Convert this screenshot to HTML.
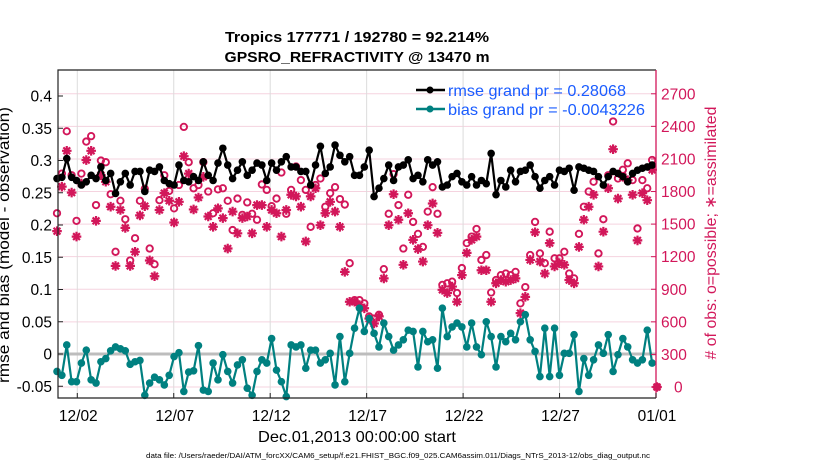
<!DOCTYPE html>
<html><head><meta charset="utf-8"><style>
html,body{margin:0;padding:0;background:#fff;}
svg{display:block;font-family:"Liberation Sans",Arial,sans-serif;}
</style></head><body>
<svg id="chart" width="830" height="470" viewBox="0 0 830 470" xmlns="http://www.w3.org/2000/svg">
<text x="357" y="42" text-anchor="middle" font-size="15" font-weight="bold" textLength="264" lengthAdjust="spacingAndGlyphs">Tropics 177771 / 192780 = 92.214%</text>
<text x="357" y="62" text-anchor="middle" font-size="15" font-weight="bold" textLength="265" lengthAdjust="spacingAndGlyphs">GPSRO_REFRACTIVITY @ 13470 m</text>
<g id="grid"></g>
<g id="marks"></g>
<g id="axes"></g>
<g>
<g>
<line x1="416" y1="90" x2="445" y2="90" stroke="#000" stroke-width="2.5"/><circle cx="430" cy="90" r="3.5" fill="#000"/>
<text x="448" y="96" font-size="16" fill="#1a5cff" textLength="178" lengthAdjust="spacingAndGlyphs">rmse grand pr = 0.28068</text></g>
<g>
<line x1="416" y1="109" x2="445" y2="109" stroke="#008080" stroke-width="2.5"/><circle cx="430" cy="109" r="3.5" fill="#008080"/>
<text x="448" y="115" font-size="16" fill="#1a5cff" textLength="197" lengthAdjust="spacingAndGlyphs">bias grand pr = -0.0043226</text></g>
</g>
<text transform="translate(9,245) rotate(-90)" text-anchor="middle" font-size="16" textLength="276" lengthAdjust="spacingAndGlyphs">rmse and bias (model - observation)</text>
<text transform="translate(716,233) rotate(-90)" text-anchor="middle" font-size="16" fill="#d2175a" textLength="253" lengthAdjust="spacingAndGlyphs"># of obs: o=possible; ∗=assimilated</text>
<text x="357" y="442" text-anchor="middle" font-size="16" textLength="198" lengthAdjust="spacingAndGlyphs">Dec.01,2013 00:00:00 start</text>
<text x="398" y="458" text-anchor="middle" font-size="7.5" textLength="504" lengthAdjust="spacingAndGlyphs">data file: /Users/raeder/DAI/ATM_forcXX/CAM6_setup/f.e21.FHIST_BGC.f09_025.CAM6assim.011/Diags_NTrS_2013-12/obs_diag_output.nc</text>
</svg>
<script>
const rmse=[0.272,0.274,0.303,0.274,0.269,0.262,0.267,0.277,0.272,0.290,0.269,0.280,0.249,0.267,0.280,0.262,0.283,0.283,0.252,0.285,0.283,0.290,0.269,0.264,0.262,0.293,0.269,0.267,0.275,0.269,0.298,
0.277,0.269,0.296,0.319,0.293,0.272,0.285,0.298,0.277,0.285,0.296,0.293,0.269,0.296,0.285,0.298,0.306,0.290,0.290,0.283,0.283,0.262,0.293,0.322,0.280,0.290,0.324,0.308,0.298,0.306,0.277,
0.277,0.290,0.316,0.244,0.257,0.272,0.293,0.269,0.290,0.293,0.301,0.272,0.277,0.267,0.301,0.293,0.298,0.259,0.262,0.275,0.280,0.267,0.262,0.275,0.262,0.269,0.264,0.311,0.247,0.269,0.259,
0.285,0.267,0.283,0.285,0.293,0.275,0.257,0.269,0.275,0.262,0.285,0.283,0.288,0.254,0.290,0.288,0.285,0.283,0.275,0.262,0.275,0.283,0.280,0.275,0.267,0.280,0.285,0.288,0.290,0.293];
const bias=[-0.027,-0.033,0.014,-0.043,-0.043,-0.014,0.006,-0.040,-0.045,-0.012,-0.007,0.005,0.011,0.008,0.005,-0.016,-0.012,-0.010,-0.064,-0.045,-0.036,-0.040,-0.048,-0.033,-0.004,0.002,-0.058,-0.028,-0.026,0.013,-0.056,
-0.058,-0.014,-0.040,-0.001,-0.027,-0.045,-0.017,-0.009,-0.053,-0.064,-0.027,-0.009,-0.014,0.024,-0.025,-0.043,-0.066,0.014,0.011,0.014,-0.022,0.006,0.006,-0.014,-0.009,0.001,-0.048,0.027,-0.043,0.001,0.040,
0.071,0.035,0.055,0.032,0.011,0.048,0.027,0.006,0.014,0.022,0.037,0.035,-0.020,0.035,0.019,0.022,-0.022,0.071,0.027,0.042,0.048,0.042,0.011,0.048,0.011,-0.001,0.050,0.027,-0.020,0.027,0.019,
0.032,0.022,0.050,0.061,0.022,0.004,-0.035,0.040,-0.035,0.040,-0.033,0.001,0.001,0.030,-0.058,-0.007,-0.033,-0.009,0.014,0.001,0.030,-0.027,-0.001,0.024,0.011,-0.009,-0.014,-0.009,0.037,-0.014];
const possible=[1600,1965,2355,1950,1530,1965,2260,2310,1675,2085,2070,1775,1245,1715,1545,1165,1370,1715,1825,1275,1130,1720,1950,1805,1645,1860,2395,2070,1830,1860,2070,
1800,1600,1820,1830,1715,1445,1735,1585,1700,1595,1540,1865,1815,1665,1735,1975,1595,1815,2030,1905,1815,1475,1860,1920,1660,1785,1840,1730,1680,1140,800,
800,770,650,630,665,1085,1595,1960,1675,1275,1770,1520,1410,1290,1615,1840,1595,940,955,970,865,1095,1325,1385,1455,1170,1215,870,985,1030,1045,
1030,1060,770,920,1215,1520,1230,1140,1430,1185,1185,1245,1045,1000,1410,1660,1800,1890,1230,1545,1950,2445,1920,2000,2060,1905,1460,1905,1830,2090,0];
const assimilated=[1435,1845,2175,1790,1385,1875,2090,2175,1530,1950,1890,1660,1115,1630,1465,1115,1245,1580,1665,1165,1020,1630,1785,1715,1515,1705,2125,1965,1635,1745,1935,
1570,1475,1645,1555,1275,1615,1415,1555,1570,1415,1675,1675,1475,1630,1600,1385,1630,1770,1755,1660,1340,1755,1830,1490,1600,1705,1615,1475,1060,785,785,
755,725,630,585,650,1000,1490,1775,1540,1125,1600,1355,1270,1155,1490,1690,1420,895,865,925,785,1030,1235,1355,1385,1075,1075,785,955,985,970,
985,1000,680,830,1170,1425,1155,1045,1325,1110,1140,1125,985,955,1290,1540,1660,1770,1110,1430,1830,2190,1735,1935,1905,1770,1350,1785,1720,2000,0];
const xTickLabels=["12/02","12/07","12/12","12/17","12/22","12/27","01/01"];
const xTickDays=[1,6,11,16,21,26,31];
const yTickLeft=[-0.05,0,0.05,0.1,0.15,0.2,0.25,0.3,0.35,0.4];
const yTickLeftLabels=["-0.05","0","0.05","0.1","0.15","0.2","0.25","0.3","0.35","0.4"];
const yTickRight=[0,300,600,900,1200,1500,1800,2100,2400,2700];

const NS="http://www.w3.org/2000/svg";
const L=58,R=656,T=70,B=398;
const xDay=d=>L+d*(R-L)/31;
const xIdx=i=>57+i*(657-57)/123;
const yL=v=>354-v*645;
const yR=n=>387-n*0.1086;
function mk(tag,attrs,parent){const e=document.createElementNS(NS,tag);for(const k in attrs)e.setAttribute(k,attrs[k]);parent.appendChild(e);return e;}
const grid=document.getElementById('grid'),marks=document.getElementById('marks'),axes=document.getElementById('axes');
const MAG="#d2175a";
yTickRight.forEach(n=>{const g=mk('line',{x1:L,x2:R,y1:yR(n),y2:yR(n),stroke:"#f5d3df","stroke-width":1},grid);

});
xTickDays.forEach(d=>{const g=mk('line',{x1:xDay(d),x2:xDay(d),y1:T,y2:B,stroke:"#dcdcdc","stroke-width":1},grid);

});
const zl=mk('line',{x1:L,x2:R,y1:yL(0),y2:yL(0),stroke:"#bdbdbd","stroke-width":3},grid);


possible.forEach((n,i)=>{const c=mk('circle',{cx:xIdx(i),cy:yR(n),r:3.2,fill:"none",stroke:MAG,"stroke-width":1.9},marks);

});
assimilated.forEach((n,i)=>{const x=xIdx(i),y=yR(n),s=4.8,d=3.4;
const p=mk('path',{d:`M${x-s},${y}H${x+s}M${x},${y-s}V${y+s}M${x-d},${y-d}L${x+d},${y+d}M${x-d},${y+d}L${x+d},${y-d}`,stroke:MAG,"stroke-width":2.2},marks);

});
function series(vals,color,name){
const pl=mk('polyline',{points:vals.map((v,i)=>xIdx(i)+","+yL(v)).join(" "),fill:"none",stroke:color,"stroke-width":2.2},marks);


vals.forEach((v,i)=>{const c=mk('circle',{cx:xIdx(i),cy:yL(v),r:3.8,fill:color},marks);

});}
series(rmse,"#000","rmse");
series(bias,"#008080","bias");
const fr=mk('path',{d:`M${R},${B}H${L}V${T}H${R}`,fill:"none",stroke:"#222","stroke-width":1.2},axes);


const ra=mk('line',{x1:R,x2:R,y1:T,y2:B,stroke:MAG,"stroke-width":1.3},axes);


yTickLeft.forEach((v,i)=>{mk('line',{x1:L,x2:L+5,y1:yL(v),y2:yL(v),stroke:"#222"},axes);
const t=mk('text',{x:52,y:yL(v)+5.5,"text-anchor":"end","font-size":15.5},axes);t.textContent=yTickLeftLabels[i];

});
yTickRight.forEach(n=>{mk('line',{x1:R-5,x2:R,y1:yR(n),y2:yR(n),stroke:MAG},axes);
const t=mk('text',{x:661,y:yR(n)+5.5,"font-size":15.5,fill:MAG},axes);t.textContent=String(n);
if(n===0){t.setAttribute('x',674);}

});
xTickDays.forEach((d,i)=>{mk('line',{x1:xDay(d),x2:xDay(d),y1:B-5,y2:B,stroke:"#222"},axes);
const t=mk('text',{x:xDay(d)+1,y:421,"text-anchor":"middle","font-size":15.5},axes);t.textContent=xTickLabels[i];

});
</script>
</body></html>
